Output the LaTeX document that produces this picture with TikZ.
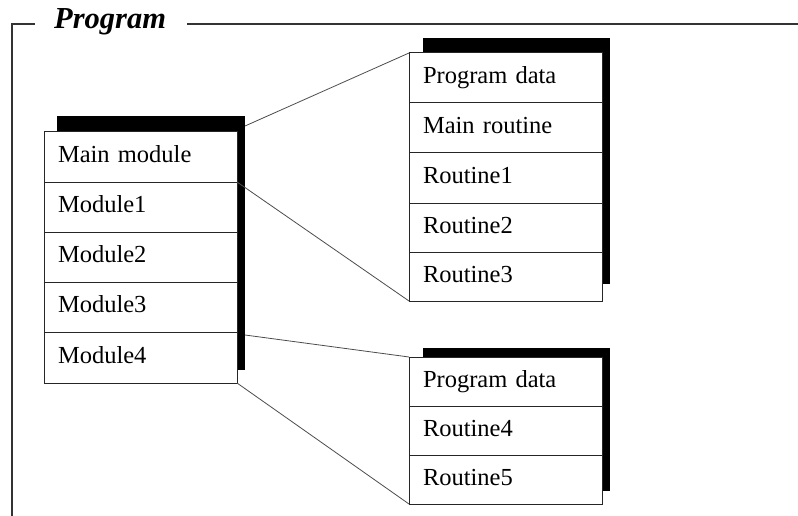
\documentclass[tikz,border=0pt]{standalone}
\usepackage{fontspec}
\setmainfont{Liberation Serif}
\begin{document}
\begin{tikzpicture}[x=1pt,y=-1pt,
  rowbox/.style={draw=black!85, line width=1pt, fill=white, anchor=north west,
    outer sep=0pt, minimum width=193pt, inner xsep=14pt, inner ysep=0pt,
    text width=165pt, align=left,
    font=\fontsize{24.5}{26}\selectfont, text height=18pt, text depth=7pt},
  shadowbar/.style={fill=black},
  frameline/.style={draw=black!80, line width=1.1pt},
  link/.style={draw=black!70, line width=0.8pt}]
\useasboundingbox (0,0) rectangle (798,516);

% enclosing frame with title
\node[anchor=west, inner sep=0pt, font=\fontsize{30.5}{32}\selectfont\bfseries\itshape] (title) at (54,22) {Program};
\coordinate (fbot) at (12,516);
\coordinate (fcorner) at (12,24);
\coordinate (fleft) at (35,24);
\coordinate (fright) at (798,24);
\coordinate (fgap) at (187,24);
\draw[frameline] (fbot) -- (fcorner) -- (fleft);
\draw[frameline] (fgap) -- (fright);

% module stack
\fill[shadowbar] (57,116) rectangle (245,370);
\node[rowbox, minimum height=50pt] (m0) at (44,132) {Main module};
\node[rowbox, minimum height=50pt] (m1) at (m0.south west) {Module1};
\node[rowbox, minimum height=50pt] (m2) at (m1.south west) {Module2};
\node[rowbox, minimum height=50pt] (m3) at (m2.south west) {Module3};
\node[rowbox, minimum height=51pt] (m4) at (m3.south west) {Module4};

% first routine stack
\fill[shadowbar] (423,38) rectangle (610,284);
\node[rowbox, minimum height=50pt] (a0) at (409,53) {Program data};
\node[rowbox, minimum height=50pt] (a1) at (a0.south west) {Main routine};
\node[rowbox, minimum height=50pt] (a2) at (a1.south west) {Routine1};
\node[rowbox, minimum height=49pt] (a3) at (a2.south west) {Routine2};
\node[rowbox, minimum height=49pt] (a4) at (a3.south west) {Routine3};

% second routine stack
\fill[shadowbar] (423,348) rectangle (610,491);
\node[rowbox, minimum height=49pt] (b0) at (409,357) {Program data};
\node[rowbox, minimum height=49pt] (b1) at (b0.south west) {Routine4};
\node[rowbox, minimum height=49pt] (b2) at (b1.south west) {Routine5};

% connectors between the stacks
\coordinate (mtop) at (245,126);
\coordinate (msplit) at (245,335);
\draw[link] (mtop) -- (a0.north west);
\draw[link] (m0.south east) -- (a4.south west);
\draw[link] (msplit) -- (b0.north west);
\draw[link] (m4.south east) -- (b2.south west);
\end{tikzpicture}
\end{document}
